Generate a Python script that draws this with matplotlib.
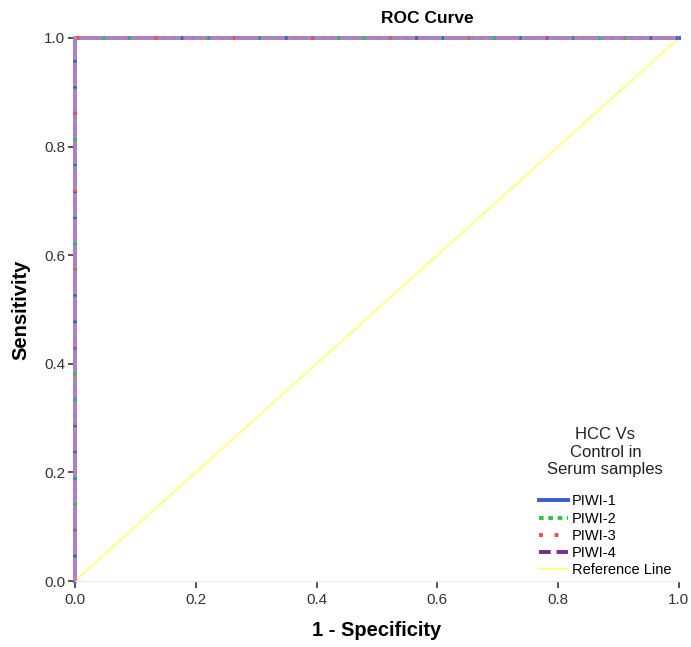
import numpy as np
import matplotlib.pyplot as plt
import matplotlib as mpl

mpl.rc('font', family=['Liberation Sans', 'DejaVu Sans'])

# ROC coordinates (1 - specificity, sensitivity) for each marker
fpr_piwi1 = [0.0, 0.0, 1.0]
tpr_piwi1 = [0.0, 1.0, 1.0]
fpr_piwi2 = [0.0, 0.0, 1.0]
tpr_piwi2 = [0.0, 1.0, 1.0]
fpr_piwi3 = [0.0, 0.0, 1.0]
tpr_piwi3 = [0.0, 1.0, 1.0]
fpr_piwi4 = [0.0, 0.0, 1.0]
tpr_piwi4 = [0.0, 1.0, 1.0]
ref_x = [0.0, 1.0]
ref_y = [0.0, 1.0]

labels = ['PIWI-1', 'PIWI-2', 'PIWI-3', 'PIWI-4', 'Reference Line']
ticks = [0.0, 0.2, 0.4, 0.6, 0.8, 1.0]

fig = plt.figure(figsize=(6.91, 6.47), dpi=100)
ax = fig.add_axes([0.1085, 0.102, 0.874, 0.8393])

ax.plot(ref_x, ref_y, color='#ffff88', lw=1.4, label=labels[4], zorder=1)
ax.plot(fpr_piwi1, tpr_piwi1, color='#3a5fcd', lw=2.8, ls='-', label=labels[0], zorder=2)
ax.plot(fpr_piwi2, tpr_piwi2, color='#2ec448', lw=2.8, ls=(0, (1.2, 1.2)), label=labels[1], zorder=3)
ax.plot(fpr_piwi3, tpr_piwi3, color='#ff4a4a', lw=2.8, ls=(0, (1, 3)), label=labels[2], zorder=4)
# the dashes on top blend with the lines beneath into a lilac band
ax.plot(fpr_piwi4, tpr_piwi4, color='#b784cc', lw=2.8, ls=(0, (6, 0.7)), alpha=0.88,
        label=labels[3], zorder=5)

ax.set_xlim(0, 1)
ax.set_ylim(0, 1)
ax.set_xticks(ticks)
ax.set_yticks(ticks)
ax.set_xticklabels(['%.1f' % t for t in ticks])
ax.set_yticklabels(['%.1f' % t for t in ticks])
ax.tick_params(axis='both', direction='out', length=5, width=1.2, color='#333333',
               labelcolor='#333333', labelsize=11)
ax.tick_params(axis='y', pad=2)

for s in ['top', 'right', 'left']:
    ax.spines[s].set_visible(False)
ax.spines['bottom'].set_color('#eeeeee')
ax.spines['bottom'].set_linewidth(1.0)
for line in ax.lines:
    line.set_clip_on(False)

ax.set_xlabel('1 - Specificity', fontsize=14.5, fontweight='bold', labelpad=10)
ax.set_ylabel('Sensitivity', fontsize=14.5, fontweight='bold', labelpad=10)
fig.text(0.619, 0.972, 'ROC Curve', fontsize=12.5, fontweight='bold', ha='center', va='center')

handles, lbls = ax.get_legend_handles_labels()
order = [1, 2, 3, 4, 0]
leg = ax.legend([handles[i] for i in order], [lbls[i] for i in order],
                frameon=False, fontsize=10.5, loc='lower right', bbox_to_anchor=(1.005, -0.012),
                handlelength=1.95, handletextpad=0.3, labelspacing=0.22, borderpad=0.2)
for h in leg.legend_handles:
    h.set_alpha(1)
leg.legend_handles[3].set_color('#7b2c8b')
leg.legend_handles[3].set_linestyle((0, (3, 1.5)))

# legend heading, drawn separately so it sits clear of the entries
fig.text(0.876, 0.301, 'HCC Vs\nControl in\nSerum samples', fontsize=12, color='#222222',
         ha='center', va='center', multialignment='center', linespacing=1.2)

fig.savefig('out.png', dpi=100)
